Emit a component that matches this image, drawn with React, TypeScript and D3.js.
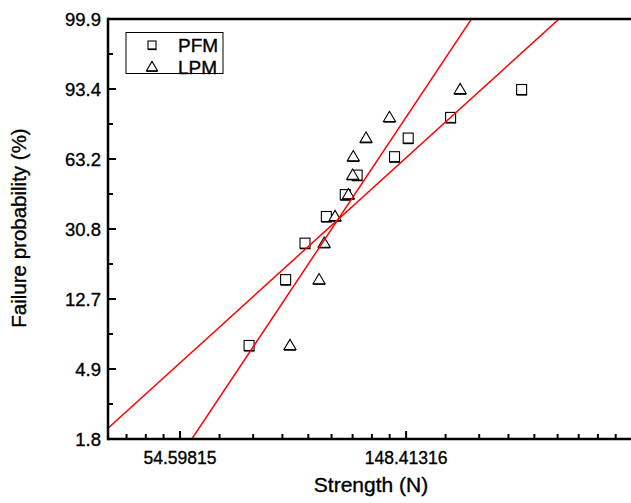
import React from 'react';
import * as d3 from 'd3';

// ---- data ----
const failureProb = [6.73, 16.35, 25.96, 35.58, 45.19, 54.81, 64.42, 74.04, 83.65, 93.27]; // %
const pfmStrength = [74.1, 87.1, 94.9, 104.3, 113.4, 119.5, 141.0, 149.8, 180.7, 247.4];
const lpmStrength = [88.8, 101.0, 103.3, 108.4, 115.0, 117.2, 117.5, 124.3, 137.9, 188.5];
const seriesNames = ['PFM', 'LPM'];
const fitShape = [2.93, 4.85];
const fitScale = [147.5, 131.2];
const yTickLin = [-4, -3, -2, -1, 0, 1, 2];
const yTickLabels = ['1.8', '4.9', '12.7', '30.8', '63.2', '93.4', '99.9'];
const xTickValues = [54.59815, 148.41316];
const xTickLabels = ['54.59815', '148.41316'];
const xDomain = [39.7, 427];

const W = 631;
const H = 503;
const left = 108;
const right = 645;
const top = 19;
const bottom = 439;
const FONT = '"Liberation Sans", Arial, sans-serif';

const weib = (p: number) => Math.log(-Math.log(1 - p / 100));

export default function App() {
  const x = d3.scaleLog().base(Math.E).domain(xDomain).range([left, right]);
  const y = d3.scaleLinear().domain([-4, 2]).range([bottom, top]);

  // minor x ticks: 8 linear subdivisions between successive powers of e
  const xMinor: number[] = [];
  for (let k = 3; k <= 6; k++) {
    const a = Math.exp(k);
    const b = Math.exp(k + 1);
    for (let j = 1; j <= 8; j++) {
      const v = a + (j * (b - a)) / 9;
      if (v > xDomain[0] && v < xDomain[1]) xMinor.push(v);
    }
  }
  const yMinor = d3.range(-3.5, 2, 1);

  const fitLine = (i: number) => {
    const lx = [Math.log(xDomain[0]), Math.log(xDomain[1])];
    const pts = lx.map((l) => [x(Math.exp(l)), y(fitShape[i] * (l - Math.log(fitScale[i])))] as [number, number]);
    return d3.line()(pts) as string;
  };

  const square = (cx: number, cy: number, s: number, key: string) => (
    <g key={key}>
      <rect x={cx - s / 2} y={cy - s / 2} width={s} height={s} fill="white" stroke="black" strokeWidth={1.1} />
      <line x1={cx - s / 2} x2={cx + s / 2 + 0.5} y1={cy + s / 2 + 0.5} y2={cy + s / 2 + 0.5} stroke="black" strokeWidth={1.3} />
    </g>
  );
  const triangle = (cx: number, cy: number, s: number, key: string) => {
    const h = s * 0.85;
    const p = `${cx},${cy - h * 0.6} ${cx - s / 2},${cy + h * 0.4} ${cx + s / 2},${cy + h * 0.4}`;
    return (
      <g key={key}>
        <polygon points={p} fill="white" stroke="black" strokeWidth={1.1} />
        <line x1={cx - s / 2} x2={cx + s / 2} y1={cy + h * 0.4 + 0.6} y2={cy + h * 0.4 + 0.6} stroke="black" strokeWidth={1.2} />
      </g>
    );
  };

  const textStyle = { stroke: 'black', strokeWidth: 0.35 };

  return (
    <svg width={W} height={H} style={{ position: 'absolute', left: 0, top: 0, background: 'white' }}>
      <defs>
        <clipPath id="plot">
          <rect x={left} y={top} width={right - left} height={bottom - top} />
        </clipPath>
      </defs>
      <rect x={0} y={0} width={W} height={H} fill="white" />

      {/* markers */}
      <g>
        {pfmStrength.map((v, i) => square(x(v), y(weib(failureProb[i])), 10, 'p' + i))}
        {lpmStrength.map((v, i) => triangle(x(v), y(weib(failureProb[i])), 12, 'l' + i))}
      </g>

      {/* fit lines */}
      <g clipPath="url(#plot)">
        {fitShape.map((_, i) => (
          <path key={i} d={fitLine(i)} stroke="#ff0000" strokeWidth={1.5} fill="none" />
        ))}
      </g>

      {/* axes */}
      <g stroke="black" strokeWidth={2.5} fill="none">
        <line x1={left} y1={top} x2={right} y2={top} />
        <line x1={left} y1={top - 1.25} x2={left} y2={bottom + 1.25} />
        <line x1={left} y1={bottom} x2={right} y2={bottom} />
      </g>
      <g stroke="black" strokeWidth={2}>
        {yTickLin.map((t) => (
          <line key={'ym' + t} x1={left} x2={left + 8} y1={y(t)} y2={y(t)} />
        ))}
        {yMinor.map((t) => (
          <line key={'yn' + t} x1={left} x2={left + 5} y1={y(t)} y2={y(t)} />
        ))}
        {xTickValues.map((v) => (
          <line key={'xm' + v} x1={x(v)} x2={x(v)} y1={bottom} y2={bottom - 8} />
        ))}
        {xMinor.map((v) => (
          <line key={'xn' + v} x1={x(v)} x2={x(v)} y1={bottom} y2={bottom - 5} />
        ))}
      </g>

      {/* tick labels */}
      <g fontFamily={FONT} fill="black" style={textStyle}>
        {yTickLin.map((t, i) => (
          <text key={'yl' + t} x={left - 7} y={y(t)} dy="0.36em" textAnchor="end" fontSize={18.5}>
            {yTickLabels[i]}
          </text>
        ))}
        {xTickValues.map((v, i) => (
          <text key={'xl' + v} x={x(v)} y={bottom + 25} textAnchor="middle" fontSize={17.5}>
            {xTickLabels[i]}
          </text>
        ))}
      </g>

      {/* axis titles */}
      <g fontFamily={FONT} style={textStyle}>
        <text x={371} y={492} textAnchor="middle" fontSize={21}>
          Strength (N)
        </text>
        <text transform={`translate(26, 228) rotate(-90)`} textAnchor="middle" fontSize={20.5}>
          Failure probability (%)
        </text>
      </g>

      {/* legend */}
      <g>
        <rect x={126} y={32.5} width={97} height={41} fill="white" stroke="black" strokeWidth={1} />
        {square(152, 45, 8, 'lg0')}
        {triangle(152, 67, 11, 'lg1')}
        {seriesNames.map((n, i) => (
          <text key={n} x={178} y={45 + i * 22} dy="0.36em" fontFamily={FONT} fontSize={19} style={textStyle}>
            {n}
          </text>
        ))}
      </g>
    </svg>
  );
}
